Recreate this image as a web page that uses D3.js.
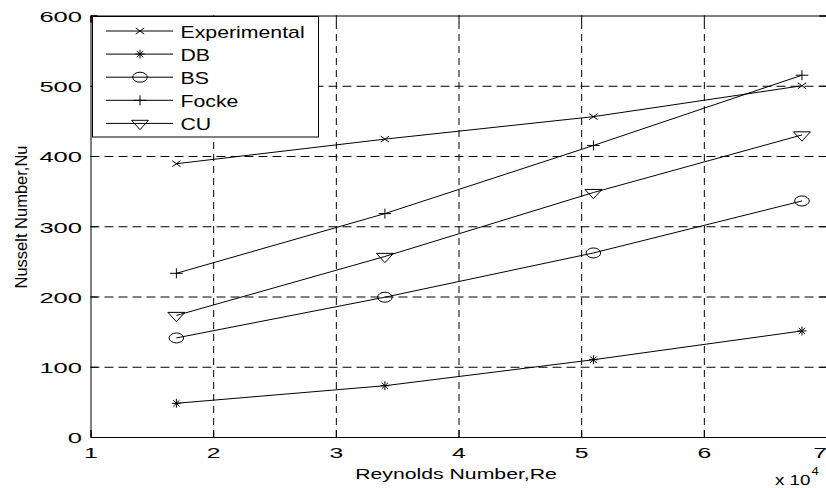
<!DOCTYPE html>
<html>
<head>
<meta charset="utf-8">
<script src="https://cdn.jsdelivr.net/npm/d3@7"></script>
<style>
  body { margin: 0; background: #fff; }
  text { font-family: Arial, "Liberation Sans", Helvetica, sans-serif; fill: #000; }
</style>
</head>
<body>
<div class="canvas"></div>
<script>
// data (Re in units of 10^4)
const reynolds = [1.7, 3.4, 5.1, 6.8];
const experimental = [389, 424, 456, 500];
const db = [48, 73, 110, 151];
const bs = [141, 199, 262, 336];
const focke = [233, 318, 415, 515];
const cu = [173, 257, 348, 430];
const seriesNames = ['Experimental', 'DB', 'BS', 'Focke', 'CU'];
const xTicks = [1, 2, 3, 4, 5, 6, 7];
const yTicks = [0, 100, 200, 300, 400, 500, 600];

const width = 826, height = 488;

const svg = d3.select('.canvas')
  .append('svg')
  .attr('width', width)
  .attr('height', height);

// plot box (right edge sits just past the window, like the original)
const box = { left: 90.5, right: 826.5, top: 15.5, bottom: 437 };

const x = d3.scaleLinear().domain([1, 7]).range([box.left, box.right]);
const y = d3.scaleLinear().domain([0, 600]).range([box.bottom, box.top]);

// the original picture is stretched sideways, so text is widened too
const tickSx = 1.65;

// grid
svg.append('g')
  .attr('transform', `translate(0, ${box.bottom})`)
  .call(d3.axisBottom(x).tickValues(xTicks.slice(1, -1)).tickSize(-(box.bottom - box.top)).tickFormat(''))
  .call(g => g.select('.domain').remove())
  .selectAll('line')
  .attr('stroke', '#777')
  .attr('stroke-dasharray', '7,5');

svg.append('g')
  .attr('transform', `translate(${box.left}, 0)`)
  .call(d3.axisLeft(y).tickValues(yTicks.slice(1, -1)).tickSize(-(box.right - box.left)).tickFormat(''))
  .call(g => g.select('.domain').remove())
  .selectAll('line')
  .attr('stroke', '#777')
  .attr('stroke-dasharray', '9,5');

// marker shapes, offsets in px round the point
const markers = {
  Experimental: 'M-4.2,-3L4.2,3M-4.2,3L4.2,-3',
  DB: 'M-4.5,0L4.5,0M0,-4.5L0,4.5M-3.2,-3.2L3.2,3.2M-3.2,3.2L3.2,-3.2',
  BS: 'M-7.3,0A7.3,5 0 1,0 7.3,0A7.3,5 0 1,0 -7.3,0Z',
  Focke: 'M-6.3,0L6.3,0M0,-5L0,5',
  CU: 'M-8.5,-3.1L8.5,-3.1L0,6.2Z'
};

const series = [experimental, db, bs, focke, cu];

const line = d3.line()
  .x((d, i) => x(reynolds[i]))
  .y(d => y(d));

const plot = svg.append('g');

series.forEach((values, k) => {
  plot.append('path')
    .attr('d', line(values))
    .attr('fill', 'none')
    .attr('stroke', '#000')
    .attr('stroke-width', 1);

  plot.selectAll(null)
    .data(values)
    .enter()
    .append('path')
    .attr('d', markers[seriesNames[k]])
    .attr('transform', (d, i) => `translate(${x(reynolds[i])}, ${y(d)})`)
    .attr('fill', 'none')
    .attr('stroke', '#000')
    .attr('stroke-width', 1);
});

// axes with inward ticks
const xAxisGroup = svg.append('g')
  .attr('transform', `translate(0, ${box.bottom})`)
  .call(d3.axisBottom(x).tickValues(xTicks).tickFormat(d3.format('d')).tickSize(-7).tickPadding(10));

const yAxisGroup = svg.append('g')
  .attr('transform', `translate(${box.left}, 0)`)
  .call(d3.axisLeft(y).tickValues(yTicks).tickFormat(d3.format('d')).tickSize(-7));

svg.append('g')
  .attr('transform', `translate(0, ${box.top})`)
  .call(d3.axisTop(x).tickValues(xTicks).tickSize(-7).tickFormat(''));

svg.append('g')
  .attr('transform', `translate(${box.right}, 0)`)
  .call(d3.axisRight(y).tickValues(yTicks).tickSize(-7).tickFormat(''));

svg.selectAll('.domain, .tick line').attr('stroke', '#000');

xAxisGroup.selectAll('text')
  .attr('font-size', 15)
  .attr('transform', `scale(${tickSx}, 1)`);

// last label hugs the window edge, as in the original
xAxisGroup.selectAll('.tick')
  .filter(d => d === 7)
  .select('text')
  .attr('text-anchor', 'end')
  .attr('x', 0);

yAxisGroup.selectAll('text')
  .attr('font-size', 15.5)
  .attr('x', -8.5 / tickSx)
  .attr('dy', '0.38em')
  .attr('transform', `scale(${tickSx}, 1)`);

svg.selectAll('g').attr('font-family', null);

// axis titles
svg.append('text')
  .attr('transform', 'translate(456, 478.5) scale(1.37, 1)')
  .attr('text-anchor', 'middle')
  .attr('font-size', 15.5)
  .text('Reynolds Number,Re');

svg.append('text')
  .attr('transform', 'translate(27, 217) rotate(-90)')
  .attr('text-anchor', 'middle')
  .attr('font-size', 16)
  .attr('textLength', 143)
  .attr('lengthAdjust', 'spacingAndGlyphs')
  .text('Nusselt Number,Nu');

svg.append('text')
  .attr('transform', 'translate(775, 485) scale(1.25, 1)')
  .attr('font-size', 15)
  .text('x 10');
svg.append('text')
  .attr('transform', 'translate(811.5, 474.5) scale(1.25, 1)')
  .attr('font-size', 10.5)
  .text('4');

// legend
const legend = svg.append('g');
legend.append('rect')
  .attr('x', 92.5)
  .attr('y', 16.5)
  .attr('width', 226)
  .attr('height', 120.5)
  .attr('fill', '#fff')
  .attr('stroke', '#000');

const legendRow = legend.selectAll('g.row')
  .data(seriesNames)
  .enter()
  .append('g')
  .attr('class', 'row')
  .attr('transform', (d, i) => `translate(0, ${31 + i * 23.1})`);

legendRow.append('line')
  .attr('x1', 106).attr('x2', 173)
  .attr('stroke', '#000');

legendRow.append('path')
  .attr('d', d => markers[d])
  .attr('transform', 'translate(140, 0)')
  .attr('fill', 'none')
  .attr('stroke', '#000');

legendRow.append('text')
  .attr('transform', 'translate(180.5, 6.5) scale(1.33, 1)')
  .attr('font-size', 16)
  .text(d => d);
</script>
</body>
</html>
